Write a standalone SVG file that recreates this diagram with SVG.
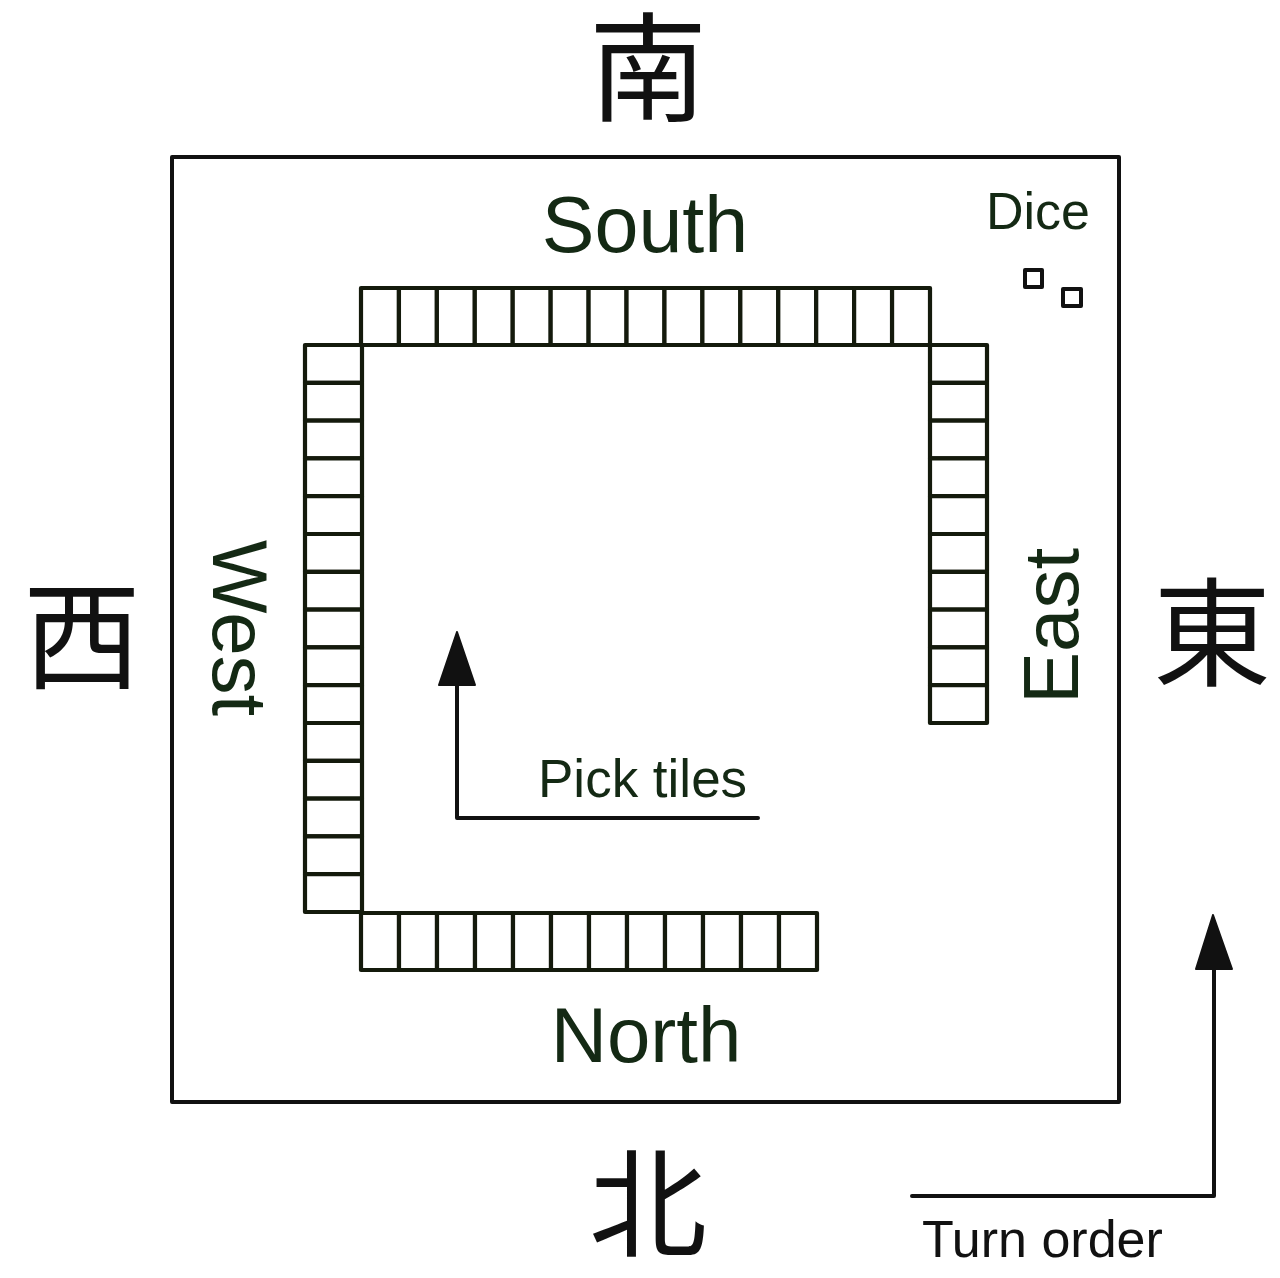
<svg xmlns="http://www.w3.org/2000/svg" width="1280" height="1278" viewBox="0 0 1280 1278">
<style>
.ln{fill:none;stroke:#111;stroke-width:4;stroke-linejoin:round;stroke-linecap:round}
.t{fill:#fff;stroke:#141a0c;stroke-width:4.2;stroke-linejoin:round}
.lbl{font-family:"Liberation Sans",Arial,sans-serif;fill:#142914}
.cjk{font-family:"Noto Sans CJK SC","Noto Sans CJK JP",sans-serif;fill:#111;text-anchor:middle;font-size:118px}
.ah{fill:#111;stroke:#111;stroke-width:2;stroke-linejoin:round}
</style>
<rect width="1280" height="1278" fill="#fff"/>
<g id="table"><rect class="ln" x="172" y="157" width="947" height="945"/></g>
<g id="cjk">
<text class="cjk" x="648" y="112">南</text>
<text class="cjk" x="82" y="680">西</text>
<text class="cjk" x="1212" y="677">東</text>
<text class="cjk" x="648" y="1248">北</text>
</g>
<g id="labels">
<text class="lbl" x="645" y="252" font-size="79" text-anchor="middle">South</text>
<text class="lbl" x="646" y="1062" font-size="78" text-anchor="middle">North</text>
<text class="lbl" font-size="78" transform="translate(213,540) rotate(90)">West</text>
<text class="lbl" font-size="78" transform="translate(1078,704) rotate(-90)">East</text>
<text class="lbl" x="1038" y="229" font-size="52" text-anchor="middle">Dice</text>
<text class="lbl" x="538" y="797" font-size="53">Pick tiles</text>
<text class="lbl" x="922" y="1257" font-size="52" style="fill:#111">Turn order</text>
</g>
<g id="dice">
<rect class="ln" x="1025" y="270" width="17" height="17"/>
<rect class="ln" x="1063" y="289" width="18" height="17"/>
</g>
<g id="wall-south">
<rect class="t" x="361" y="288" width="37.93" height="57"/>
<rect class="t" x="398.93" y="288" width="37.93" height="57"/>
<rect class="t" x="436.87" y="288" width="37.93" height="57"/>
<rect class="t" x="474.8" y="288" width="37.93" height="57"/>
<rect class="t" x="512.73" y="288" width="37.93" height="57"/>
<rect class="t" x="550.67" y="288" width="37.93" height="57"/>
<rect class="t" x="588.6" y="288" width="37.93" height="57"/>
<rect class="t" x="626.53" y="288" width="37.93" height="57"/>
<rect class="t" x="664.47" y="288" width="37.93" height="57"/>
<rect class="t" x="702.4" y="288" width="37.93" height="57"/>
<rect class="t" x="740.33" y="288" width="37.93" height="57"/>
<rect class="t" x="778.27" y="288" width="37.93" height="57"/>
<rect class="t" x="816.2" y="288" width="37.93" height="57"/>
<rect class="t" x="854.13" y="288" width="37.93" height="57"/>
<rect class="t" x="892.07" y="288" width="37.93" height="57"/>
</g>
<g id="wall-west">
<rect class="t" x="305" y="345" width="57" height="37.8"/>
<rect class="t" x="305" y="382.8" width="57" height="37.8"/>
<rect class="t" x="305" y="420.6" width="57" height="37.8"/>
<rect class="t" x="305" y="458.4" width="57" height="37.8"/>
<rect class="t" x="305" y="496.2" width="57" height="37.8"/>
<rect class="t" x="305" y="534" width="57" height="37.8"/>
<rect class="t" x="305" y="571.8" width="57" height="37.8"/>
<rect class="t" x="305" y="609.6" width="57" height="37.8"/>
<rect class="t" x="305" y="647.4" width="57" height="37.8"/>
<rect class="t" x="305" y="685.2" width="57" height="37.8"/>
<rect class="t" x="305" y="723" width="57" height="37.8"/>
<rect class="t" x="305" y="760.8" width="57" height="37.8"/>
<rect class="t" x="305" y="798.6" width="57" height="37.8"/>
<rect class="t" x="305" y="836.4" width="57" height="37.8"/>
<rect class="t" x="305" y="874.2" width="57" height="37.8"/>
</g>
<g id="wall-east">
<rect class="t" x="930" y="345" width="57" height="37.8"/>
<rect class="t" x="930" y="382.8" width="57" height="37.8"/>
<rect class="t" x="930" y="420.6" width="57" height="37.8"/>
<rect class="t" x="930" y="458.4" width="57" height="37.8"/>
<rect class="t" x="930" y="496.2" width="57" height="37.8"/>
<rect class="t" x="930" y="534" width="57" height="37.8"/>
<rect class="t" x="930" y="571.8" width="57" height="37.8"/>
<rect class="t" x="930" y="609.6" width="57" height="37.8"/>
<rect class="t" x="930" y="647.4" width="57" height="37.8"/>
<rect class="t" x="930" y="685.2" width="57" height="37.8"/>
</g>
<g id="wall-north">
<rect class="t" x="361" y="913" width="38" height="57"/>
<rect class="t" x="399" y="913" width="38" height="57"/>
<rect class="t" x="437" y="913" width="38" height="57"/>
<rect class="t" x="475" y="913" width="38" height="57"/>
<rect class="t" x="513" y="913" width="38" height="57"/>
<rect class="t" x="551" y="913" width="38" height="57"/>
<rect class="t" x="589" y="913" width="38" height="57"/>
<rect class="t" x="627" y="913" width="38" height="57"/>
<rect class="t" x="665" y="913" width="38" height="57"/>
<rect class="t" x="703" y="913" width="38" height="57"/>
<rect class="t" x="741" y="913" width="38" height="57"/>
<rect class="t" x="779" y="913" width="38" height="57"/>
</g>
<g id="connectors">
<polyline class="ln" points="758,818 457,818 457,684"/>
<polygon class="ah" points="457,632 439,685 475,685"/>
<polyline class="ln" points="912,1196 1214,1196 1214,967"/>
<polygon class="ah" points="1213,915 1196,969 1232,969"/>
</g>
</svg>
